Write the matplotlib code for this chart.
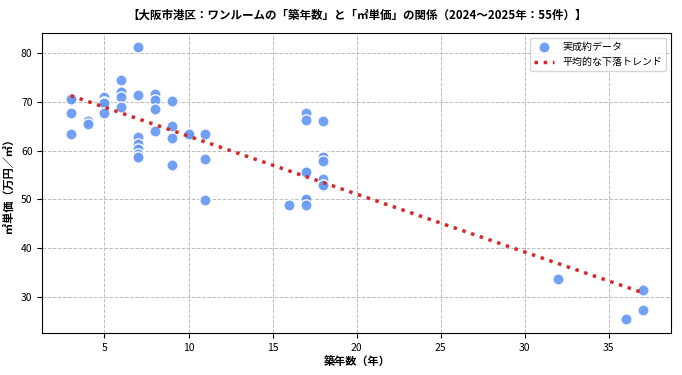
import numpy as np
import matplotlib
matplotlib.use("Agg")
import matplotlib.pyplot as plt

plt.rcParams['font.family'] = ['Noto Sans CJK JP', 'DejaVu Sans']

# building age (years) and price per m2 (10k yen)
age = [3, 3, 3, 3,
       4, 4,
       5, 5, 5, 5,
       6, 6, 6, 6, 6,
       7, 7, 7, 7, 7, 7, 7, 7,
       8, 8, 8, 8,
       9, 9, 9, 9,
       10, 10,
       11, 11, 11,
       16,
       17, 17, 17, 17, 17, 17, 17,
       18, 18, 18, 18, 18, 18, 18,
       32, 36, 37, 37]
price = [70.4, 70.6, 67.6, 63.3,
         66.1, 65.5,
         71.0, 70.0, 69.8, 67.7,
         74.4, 72.0, 71.9, 70.9, 69.0,
         81.3, 71.4, 62.8, 61.4, 60.3, 59.3, 58.4, 58.6,
         71.6, 70.3, 68.5, 64.1,
         70.2, 65.0, 62.5, 57.1,
         63.2, 63.4,
         63.4, 58.2, 49.9,
         48.8,
         67.8, 66.3, 55.8, 55.6, 49.9, 50.1, 48.8,
         66.1, 58.9, 58.7, 57.8, 54.1, 52.7, 53.0,
         33.7, 25.4, 31.4, 27.3]

title = "【大阪市港区：ワンルームの「築年数」と「㎡単価」の関係（2024～2025年：55件）】"

x = np.array(age)
y = np.array(price)
slope, icpt = np.polyfit(x, y, 1)
xs = np.array([x.min(), x.max()])

fig, ax = plt.subplots(figsize=(6.82, 3.75), dpi=100)
ax.scatter(x, y, s=65, color='#6a9bf4', edgecolors='white', linewidths=1, alpha=0.95,
           label='実成約データ', zorder=3)
ax.plot(xs, slope * xs + icpt, color='#d62728', linestyle=':', linewidth=2.5,
        label='平均的な下落トレンド', zorder=4)

ax.grid(True, linestyle='--', color='#bbbbbb', linewidth=0.7)
ax.set_axisbelow(True)
ax.set_xlabel('築年数（年）', fontsize=8, fontweight='bold', labelpad=2)
ax.set_ylabel('㎡単価（万円／㎡）', fontsize=8, fontweight='bold')
ax.set_title(title, fontsize=8.3, fontweight='bold', pad=10)
ax.tick_params(labelsize=7.5)
ax.legend(loc='upper right', fontsize=7.2)

plt.subplots_adjust(left=0.062, right=0.984, top=0.912, bottom=0.112)
plt.savefig('out.png')
